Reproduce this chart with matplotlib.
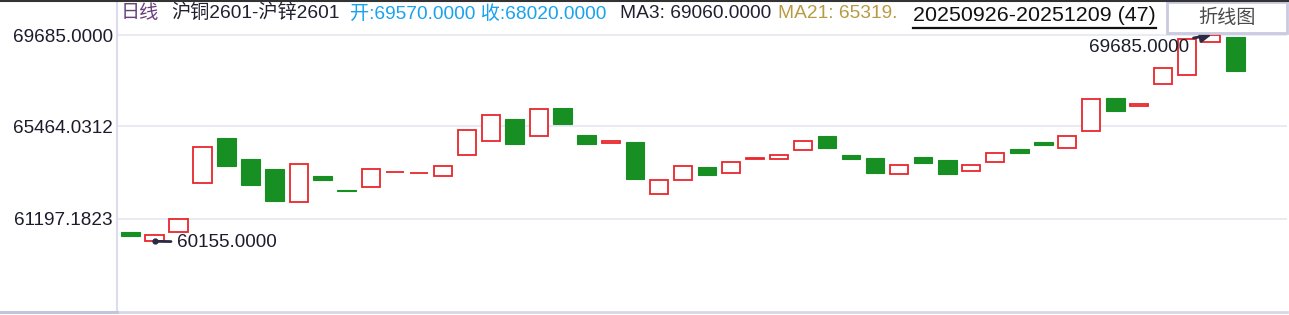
import numpy as np
import matplotlib
matplotlib.use("Agg")
from matplotlib import pyplot as plt
from matplotlib.lines import Line2D
from matplotlib.patches import Rectangle

plt.rcParams['font.family'] = ['Liberation Sans', 'Noto Sans CJK SC', 'DejaVu Sans']

# daily candles, open / close only (no wicks drawn)
opens = [60590, 60155, 60570, 62835, 64925, 63955, 63495, 61955, 63170, 62540,
         62650, 63345, 63295, 63160, 64130, 64775, 65805, 65035, 66315, 65065,
         64710, 64745, 62325, 62975, 63590, 63325, 63970, 63970, 64385, 65020,
         64140, 64005, 63250, 64050, 63910, 63390, 63805, 64420, 64745, 64450,
         65235, 66775, 66390, 67410, 67825, 69375, 69570]
closes = [60415, 60430, 61185, 64500, 63650, 62770, 62030, 63725, 63000, 62495,
          63495, 63370, 63325, 63620, 65285, 65990, 64635, 66255, 65575, 64650,
          64790, 63035, 62985, 63620, 63220, 63805, 64005, 64130, 64775, 64465,
          63955, 63310, 63665, 63785, 63280, 63665, 64220, 64250, 64605, 65005,
          66715, 66190, 66500, 68150, 69500, 69685, 68020]
tick_vals = [61197.1823, 65464.0312, 69685.0]
tick_labels = ["61197.1823", "65464.0312", "69685.0000"]

W, H = 1289, 315
fig = plt.figure(figsize=(W / 100, H / 100), dpi=100)
fig.patch.set_facecolor("white")

# axes box in pixels: x 117..1287, y 3..312 from top
ax = fig.add_axes([117 / W, (H - 312) / H, (1287 - 117) / W, (312 - 3) / H])
ax.set_xlim(-0.5625, 48.15)
px = 46.19  # value per pixel
ax.set_ylim(69685 - (312 - 35) * px, 69685 + (35 - 3) * px)

o = np.array(opens)
c = np.array(closes)
x = np.arange(len(o))
up = c >= o
lo = np.minimum(o, c)
hi = np.maximum(o, c)

red = "#E8262C"
green = "#178F22"
ax.bar(x[up], (hi - lo)[up], bottom=lo[up], width=0.76, facecolor="white",
       edgecolor=red, linewidth=1.3, zorder=3)
ax.bar(x[~up], (hi - lo)[~up], bottom=lo[~up], width=0.78, facecolor=green,
       edgecolor=green, linewidth=0.8, zorder=3)

ax.set_yticks(tick_vals)
ax.set_yticklabels(tick_labels)
ax.tick_params(axis="y", length=0, pad=3, labelsize=13.6, labelcolor="#1c1c2c")
ax.set_xticks([])
ax.grid(axis="y", color="#E6E6F2", linewidth=1.2, zorder=0)
ax.set_axisbelow(True)
for s in ["top", "right"]:
    ax.spines[s].set_visible(False)
ax.spines["left"].set_color("#DCDCEE")
ax.spines["left"].set_linewidth(1.5)
ax.spines["bottom"].set_color("#D8D8EA")
ax.spines["bottom"].set_linewidth(2)

# max / min markers
imax = int(np.argmax(hi))
imin = int(np.argmin(lo))
ax.annotate(f"{hi[imax]:.4f}", xy=(imax, hi[imax]), xytext=(-22, -12),
            textcoords="offset pixels", ha="right", va="center",
            fontsize=13.6, color="#1c1c2c",
            arrowprops=dict(arrowstyle="-|>,head_length=0.45,head_width=0.25",
                            color="#2a2a40", lw=2, shrinkA=1, shrinkB=0),
            zorder=5)
ax.annotate(f"{lo[imin]:.4f}", xy=(imin, lo[imin]), xytext=(22, -1),
            textcoords="offset pixels", ha="left", va="center",
            fontsize=13.6, color="#1c1c2c",
            arrowprops=dict(arrowstyle="-", color="#2a2a40", lw=2,
                            shrinkA=2, shrinkB=0),
            zorder=5)
ax.plot([imin], [lo[imin]], marker="o", markersize=3.5, color="#2a2a40", zorder=6)

# header line
def ftext(xp, yp, s, **kw):
    return fig.text(xp / W, 1 - yp / H, s, va="baseline", **kw)

ftext(121, 18.5, "日线", fontsize=13.8, color="#6A3F7C")
ftext(171, 18.5, "沪铜2601-沪锌2601", fontsize=13.8, color="#202030")
ftext(350, 18.5, "开:69570.0000 收:68020.0000", fontsize=13.8, color="#19A2EE")
ftext(620, 18.5, "MA3: 69060.0000", fontsize=13.8, color="#202030")
ftext(778, 18.5, "MA21: 65319.", fontsize=13.8, color="#B89A42")
dt = ftext(913, 21, "20250926-20251209 (47)", fontsize=15.4, color="#111111")

fig.canvas.draw()
bb = dt.get_window_extent()
fig.add_artist(Line2D([bb.x0 / W, bb.x1 / W], [1 - 28 / H, 1 - 28 / H],
                      color="#111111", linewidth=1.6))

# button
fig.add_artist(Rectangle((1167 / W, 1 - 33 / H), 120 / W, 31 / H,
                         facecolor="white", edgecolor="#CACAE0", linewidth=2))
fig.text(1227 / W, 1 - 18 / H, "折线图", ha="center", va="center",
         fontsize=13.8, color="#4a4a4a")

# frame lines
fig.add_artist(Line2D([0, 1], [1 - 0.7 / H, 1 - 0.7 / H], color="#333333", linewidth=1.5))
fig.add_artist(Line2D([0, 117 / W], [(H - 312) / H] * 2, color="#C4C4DA", linewidth=2.2))

fig.savefig("out.png", dpi=100)
